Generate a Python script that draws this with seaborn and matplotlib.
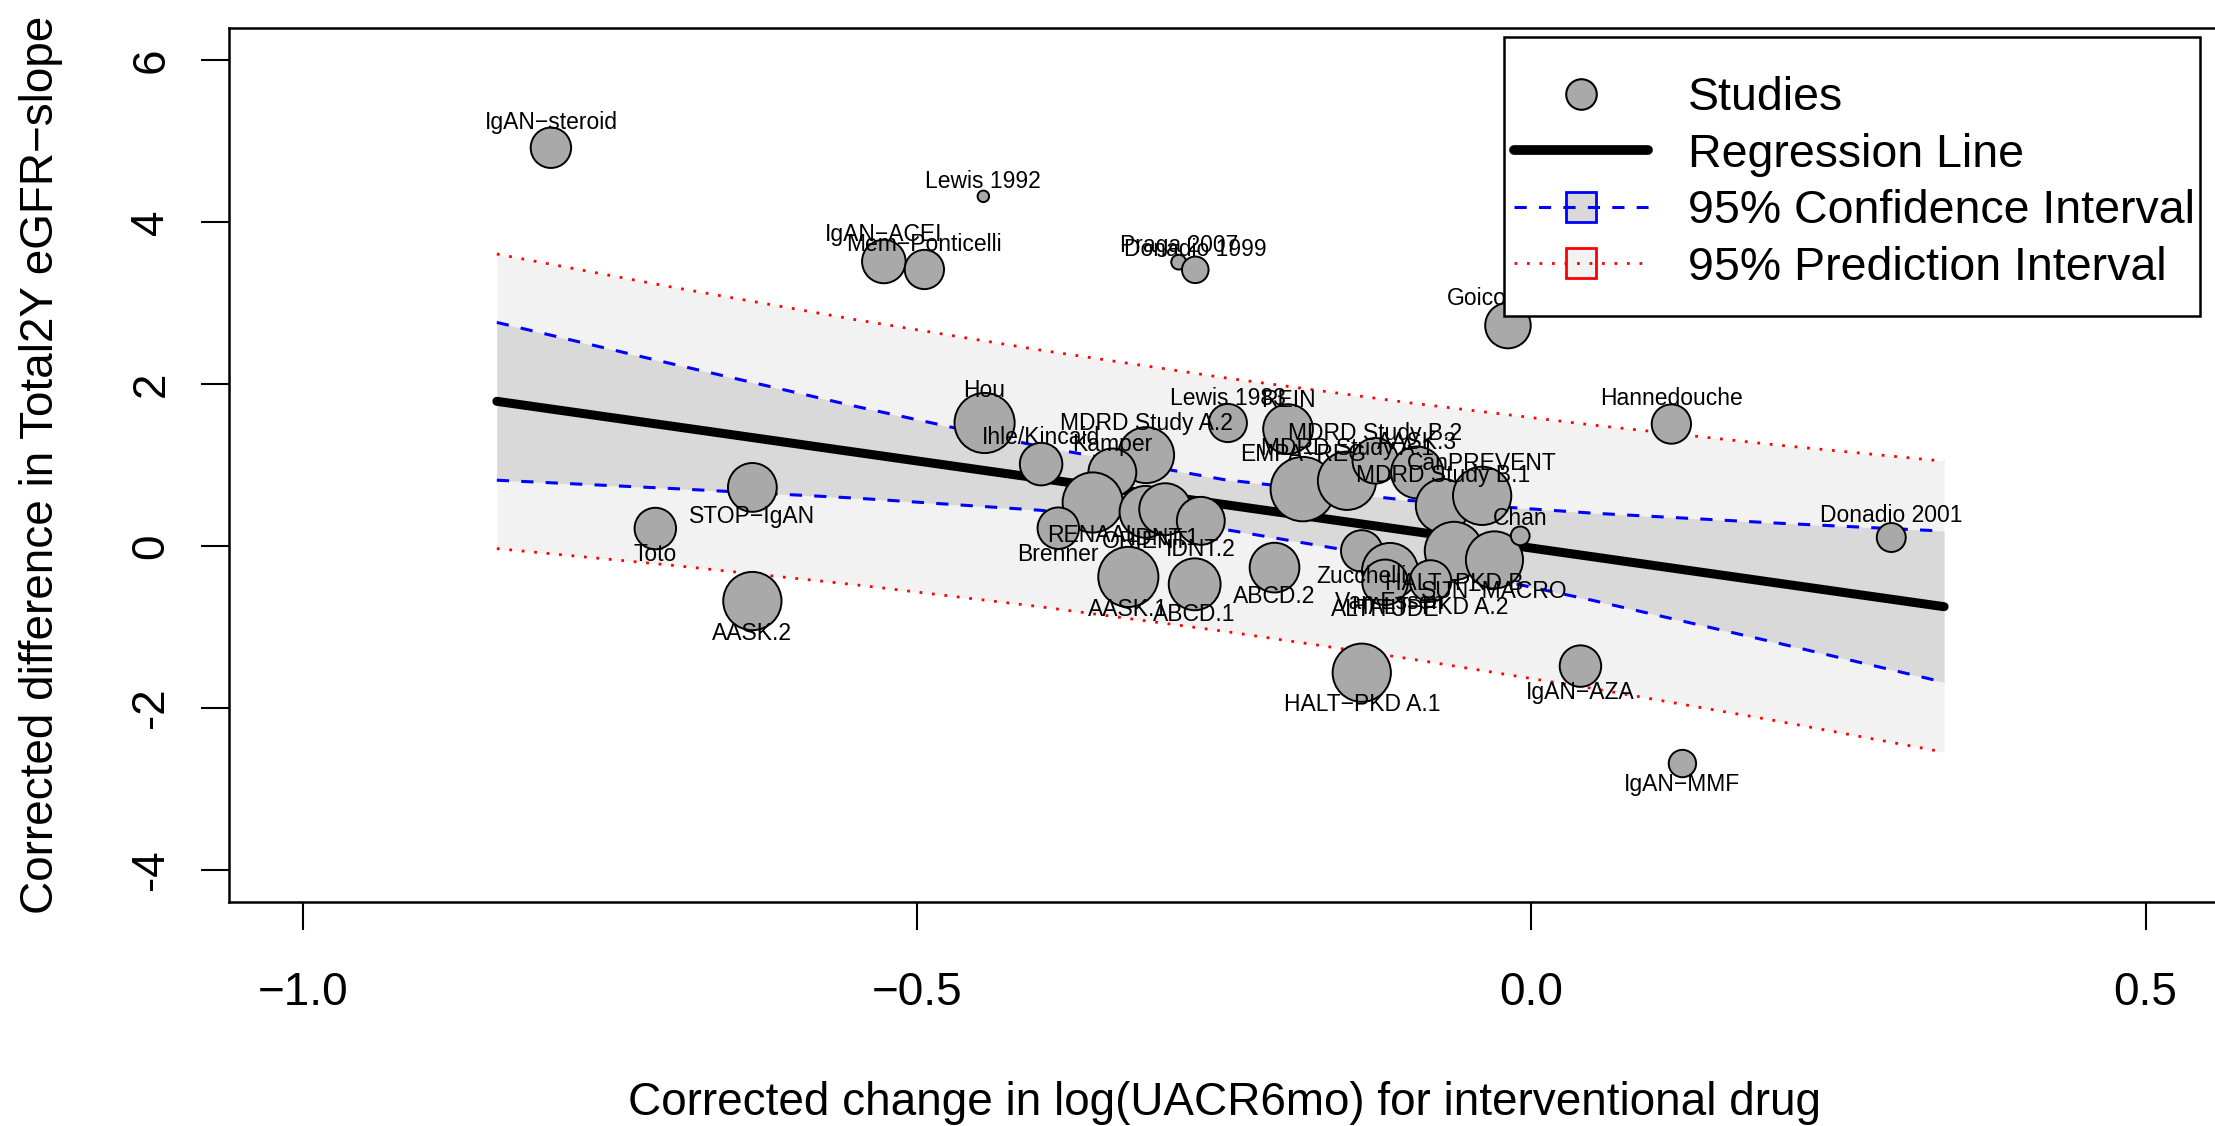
import numpy as np
import pandas as pd
import matplotlib
matplotlib.use("Agg")
import matplotlib.pyplot as plt
import seaborn as sns
from matplotlib.lines import Line2D
from matplotlib.patches import Rectangle

# ---------------- data ----------------
studies = ["IgAN\u2212steroid", "Lewis 1992", "IgAN\u2212ACEI", "Mem\u2212Ponticelli", "Praga 2007",
           "Donadio 1999", "Goicoechea", "Hou", "Lewis 1983", "REIN", "Hannedouche",
           "Ihle/Kincaid", "MDRD Study A.2", "Kamper", "STOP\u2212IgAN", "Toto", "AASK.2",
           "RENAAL", "Brenner", "ORIENT", "IDNT.1", "IDNT.2", "AASK.1", "ABCD.1", "ABCD.2",
           "EMPA\u2212REG", "MDRD Study A.1", "MDRD Study B.2", "AASK.3", "MDRD Study B.1",
           "CanPREVENT", "HALT\u2212PKD B", "SUN\u2212MACRO", "Chan", "Zucchelli", "Van Essen",
           "HALT\u2212PKD A.2", "ALTITUDE", "HALT\u2212PKD A.1", "IgAN\u2212AZA", "IgAN\u2212MMF",
           "Donadio 2001"]
uacr_change = [-0.798, -0.446, -0.527, -0.494, -0.287, -0.2735, -0.019, -0.445, -0.247, -0.198,
               0.114, -0.399, -0.3135, -0.341, -0.634, -0.713, -0.634, -0.357, -0.385, -0.314,
               -0.298, -0.269, -0.328, -0.274, -0.209, -0.186, -0.150, -0.127, -0.093, -0.072,
               -0.040, -0.063, -0.030, -0.009, -0.138, -0.115, -0.082, -0.119, -0.138, 0.040,
               0.123, 0.293]
egfr_diff = [4.92, 4.32, 3.515, 3.416, 3.507, 3.412, 2.723, 1.519, 1.519, 1.444,
             1.506, 1.011, 1.122, 0.908, 0.723, 0.215, -0.681, 0.537, 0.219, 0.421,
             0.454, 0.31, -0.383, -0.474, -0.268, 0.702, 0.805, 1.052, 0.908, 0.495,
             0.619, -0.062, -0.173, 0.124, -0.062, -0.309, -0.433, -0.45, -1.567, -1.485,
             -2.689, 0.104]
weights = [37, 3, 43, 35, 5, 16, 47, 82, 33, 56,
           35, 41, 71, 52, 54, 39, 77, 82, 39, 61,
           61, 52, 82, 61, 56, 94, 77, 47, 61, 66,
           77, 77, 74, 8, 39, 71, 39, 47, 77, 39,
           17, 19]

# regression line and interval bands, read at several x positions
band_x = [-0.842, -0.7, -0.55, -0.4, -0.25, -0.1, 0.05, 0.2, 0.336]
fit_y = [1.787, 1.481, 1.158, 0.835, 0.512, 0.189, -0.134, -0.458, -0.751]
ci_lo = [0.812, 0.710, 0.591, 0.441, 0.205, -0.184, -0.673, -1.198, -1.685]
ci_hi = [2.762, 2.252, 1.725, 1.229, 0.819, 0.562, 0.405, 0.282, 0.183]
pi_lo = [-0.033, -0.238, -0.480, -0.751, -1.055, -1.392, -1.762, -2.163, -2.549]
pi_hi = [3.607, 3.200, 2.796, 2.421, 2.079, 1.770, 1.494, 1.247, 1.047]

x_ticks = [-1.0, -0.5, 0.0, 0.5]
x_ticklabels = ["\u22121.0", "\u22120.5", "0.0", "0.5"]
y_ticks = [-4, -2, 0, 2, 4, 6]
y_ticklabels = ["-4", "-2", "0", "2", "4", "6"]

df = pd.DataFrame({"study": studies, "x": uacr_change, "y": egfr_diff, "w": weights})

# ---------------- style ----------------
sns.set_theme(style="ticks")
plt.rcParams['font.family'] = ['Liberation Sans', 'DejaVu Sans']
plt.rcParams['axes.edgecolor'] = 'black'
plt.rcParams['xtick.color'] = 'black'
plt.rcParams['ytick.color'] = 'black'
plt.rcParams['text.color'] = 'black'
plt.rcParams['axes.labelcolor'] = 'black'

W, H = 2215, 1126
fig = plt.figure(figsize=(W / 100, H / 100), dpi=100)
ax_left, ax_top, ax_bottom = 229, 28, 902
ax_w_px = 1990.3
ax = fig.add_axes([ax_left / W, (H - ax_bottom) / H, ax_w_px / W, (ax_bottom - ax_top) / H])
ax.set_xlim(-1.06, 0.56)
ax.set_ylim(-4.4, 6.4)

MAIN_FS = 33
LEG_FS = 33.5
LAB_FS = 16.5

# bands
ax.fill_between(band_x, pi_lo, pi_hi, color="#F2F2F2", lw=0, zorder=1)
ax.fill_between(band_x, ci_lo, ci_hi, color="#D9D9D9", lw=0, zorder=2)
ax.plot(band_x, fit_y, color="black", lw=6.5, solid_capstyle="round", zorder=3)
for arr in (ci_lo, ci_hi):
    ax.plot(band_x, arr, color="blue", lw=2.2, ls=(0, (4, 4)), zorder=3)
for arr in (pi_lo, pi_hi):
    ax.plot(band_x, arr, color="red", lw=2.0, ls=(0, (1, 3.5)), zorder=3)

# bubbles
SMAX = 2150
WMAX = 94
sns.scatterplot(data=df, x="x", y="y", size="w", sizes=(0, SMAX), size_norm=(0, WMAX),
                color="#A9A9A9", edgecolor="black", linewidth=1.4, alpha=1,
                legend=False, ax=ax, zorder=5)

# labels: above if the study lies above the regression line, else below
for name, xv, yv, w in zip(studies, uacr_change, egfr_diff, weights):
    r_pt = np.sqrt(SMAX * w / WMAX) / 2
    off = 8 + 0.72 * r_pt
    above = yv > np.interp(xv, band_x, fit_y)
    ax.annotate(name, (xv, yv), xytext=(0, off if above else -off),
                textcoords="offset points", ha="center", va="center",
                fontsize=LAB_FS, zorder=10)

# axes styling
for sp in ax.spines.values():
    sp.set_linewidth(1.8)
    sp.set_color("black")
ax.set_xticks(x_ticks)
ax.set_xticklabels(x_ticklabels)
ax.set_yticks(y_ticks)
ax.set_yticklabels(y_ticklabels)
ax.tick_params(axis="both", direction="out", length=20, width=1.5, labelsize=MAIN_FS)
ax.tick_params(axis="x", pad=30)
ax.tick_params(axis="y", pad=20, labelrotation=90)
for lab in ax.get_yticklabels():
    lab.set_va("center")
ax.set_xlabel("Corrected change in log(UACR6mo) for interventional drug", fontsize=MAIN_FS)
ax.set_ylabel("Corrected difference in Total2Y eGFR\u2212slope", fontsize=MAIN_FS)
ax.xaxis.set_label_coords(0.5, -0.205)
ax.yaxis.set_label_coords(-0.0832, 0.5)
ax.grid(False)

# legend
lx0, ly0, lx1, ly1 = 1504, 37, 2200, 316
ax.add_patch(Rectangle(((lx0 - ax_left) / ax_w_px, (ax_bottom - ly1) / (ax_bottom - ax_top)),
                       (lx1 - lx0) / ax_w_px, (ly1 - ly0) / (ax_bottom - ax_top),
                       transform=ax.transAxes, facecolor="white", edgecolor="black",
                       lw=1.8, zorder=20, clip_on=False))
h_studies = Line2D([], [], marker="o", ls="none", markerfacecolor="#A9A9A9",
                   markeredgecolor="black", markersize=22, markeredgewidth=1.5)
h_reg = Line2D([], [], color="black", lw=7, solid_capstyle="round")
h_ci = (Line2D([], [], marker="s", ls="none", markersize=21, markerfacecolor="#D9D9D9",
               markeredgecolor="blue", markeredgewidth=2),
        Line2D([], [], color="blue", lw=2.2, ls=(0, (4, 4))))
h_pi = (Line2D([], [], marker="s", ls="none", markersize=21, markerfacecolor="#F2F2F2",
               markeredgecolor="red", markeredgewidth=2),
        Line2D([], [], color="red", lw=2.0, ls=(0, (1, 3.5))))
leg = ax.legend([h_studies, h_reg, h_ci, h_pi],
                ["Studies", "Regression Line", "95% Confidence Interval", "95% Prediction Interval"],
                loc="upper left", bbox_to_anchor=((1514 - ax_left) / ax_w_px, (ax_bottom - 76) / (ax_bottom - ax_top)),
                frameon=False, fontsize=LEG_FS, handlelength=2.88, handletextpad=0.86,
                labelspacing=0.27, borderpad=0, borderaxespad=0)
leg.set_zorder(21)

fig.savefig("out.png", dpi=100)
